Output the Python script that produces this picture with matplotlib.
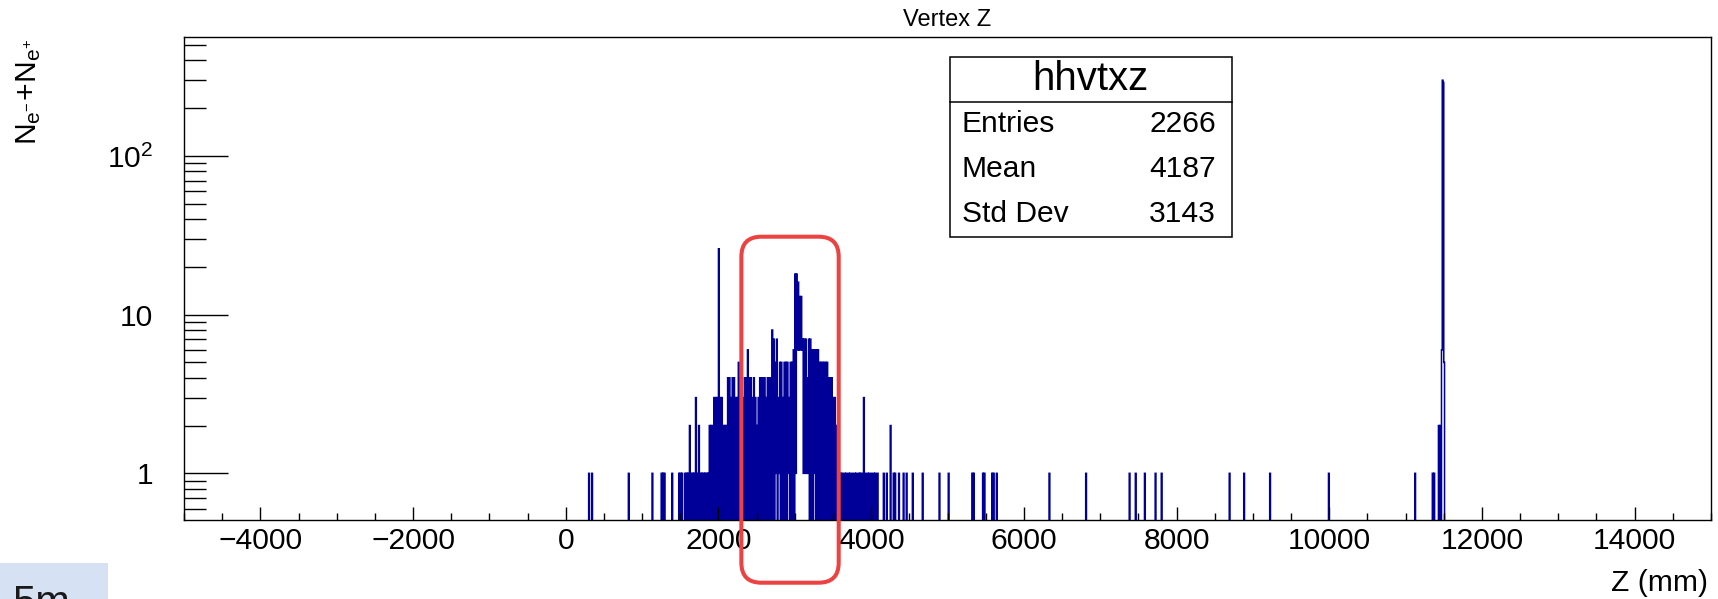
import numpy as np
import matplotlib
matplotlib.use("Agg")
import matplotlib.pyplot as plt
from matplotlib.patches import FancyBboxPatch, Rectangle
from matplotlib.lines import Line2D
from matplotlib.transforms import IdentityTransform
from matplotlib.ticker import FixedLocator, FixedFormatter, NullFormatter, MultipleLocator

plt.rcParams['font.family'] = ['Liberation Sans', 'DejaVu Sans']
plt.rcParams['mathtext.fontset'] = 'custom'
plt.rcParams['mathtext.rm'] = 'Liberation Sans'
plt.rcParams['mathtext.it'] = 'Liberation Sans:italic'
plt.rcParams['mathtext.bf'] = 'Liberation Sans:bold'

# ---- histogram definition (mm) ----
z_min, z_max, bin_w = -5000, 15000, 10

# dense core: 20 mm columns from core_start, highest / lowest bin content in each
core_start = 1880
core_peak = [2, 2, 2, 3, 3, 3, 26, 3, 3, 2,
             2, 2, 4, 4, 3, 4, 4, 3, 3, 5,
             4, 4, 3, 4, 4, 6, 4, 4, 3, 4,
             3, 2, 3, 4, 4, 4, 4, 3, 4, 4,
             4, 8, 7, 5, 7, 3, 5, 5, 3, 5,
             5, 5, 3, 5, 5, 6, 18, 18, 16, 13,
             13, 7, 7, 7, 4, 7, 7, 6, 6, 6,
             6, 6, 5, 5, 5, 5, 5, 5, 4, 4,
             4, 3, 3, 2, 2, 1]
core_floor = [0, 0, 0, 0, 0, 0, 0, 0, 0, 0,
              0, 0, 0, 0, 0, 0, 0, 0, 0, 0,
              0, 0, 0, 0, 0, 0, 0, 0, 0, 0,
              0, 0, 0, 0, 0, 0, 0, 0, 0, 0,
              0, 0, 0, 1, 0, 1, 0, 0, 0, 0,
              0, 1, 0, 0, 0, 0, 1, 6, 6, 6,
              6, 1, 1, 1, 1, 0, 0, 0, 1, 0,
              0, 0, 0, 0, 0, 0, 0, 0, 0, 0,
              0, 0, 0, 0, 0, 0]

# isolated bins outside the core: lower bin edge (mm) and content
single_z = [300, 340, 820, 1130, 1250, 1270, 1290, 1390,
            1480, 1500, 1520, 1560, 1580, 1600, 1620, 1640, 1660, 1680,
            1700, 1720, 1740, 1760, 1780, 1800, 1820, 1840, 1860,
            3600, 3620, 3650, 3670, 3700, 3720, 3750, 3780, 3800, 3830,
            3850, 3870, 3900, 3920, 3950, 3970, 4000, 4030, 4050, 4080,
            4160, 4200, 4250, 4290, 4310, 4360, 4420, 4460, 4540, 4670,
            4890, 5010, 5320, 5340, 5460, 5480, 5580, 5600, 5640, 6330,
            6810, 7380, 7460, 7580, 7720, 7800, 8690, 8880, 9220, 9990,
            11120, 11350, 11370, 11430, 11450, 11470, 11480, 11490, 11500]
single_n = [1, 1, 1, 1, 1, 1, 1, 1,
            1, 1, 1, 1, 1, 1, 2, 1, 1, 1,
            3, 1, 2, 1, 1, 1, 1, 1, 1,
            1, 1, 1, 1, 1, 1, 1, 1, 1, 1,
            1, 1, 3, 1, 1, 1, 1, 1, 1, 1,
            1, 1, 2, 1, 1, 1, 1, 1, 1, 1,
            1, 1, 1, 1, 1, 1, 1, 1, 1, 1,
            1, 1, 1, 1, 1, 1, 1, 1, 1, 1,
            1, 1, 1, 2, 2, 6, 300, 290, 5]

hist_name = "hhvtxz"
stat_labels = ["Entries", "Mean", "Std Dev"]
stat_values = ["2266", "4187", "3143"]

x_major = [-4000, -2000, 0, 2000, 4000, 6000, 8000, 10000, 12000, 14000]
y_major = [1, 10, 100]
y_major_labels = ["1", "10", r"$\mathregular{10^{2}}$"]
y_minor = [0.6, 0.7, 0.8, 0.9, 2, 3, 4, 5, 6, 7, 8, 9,
           20, 30, 40, 50, 60, 70, 80, 90, 200, 300, 400, 500]

# highlighted z window
box_z = (2300, 3575)

# ---- build bin contents ----
edges = np.arange(z_min, z_max + bin_w, bin_w)
counts = np.zeros(len(edges) - 1)


def bin_index(z):
    return int(round((z - z_min) / bin_w))


for i, (p, f) in enumerate(zip(core_peak, core_floor)):
    k = bin_index(core_start + 20 * i)
    counts[k] = p
    counts[k + 1] = f
for z, n in zip(single_z, single_n):
    counts[bin_index(z)] = n

# ---- figure ----
W, H, DPI = 1718, 599, 100
fig = plt.figure(figsize=(W / DPI, H / DPI), dpi=DPI)
fig.patch.set_facecolor("white")

ax_l, ax_r, ax_t, ax_b = 184, 1711, 36.7, 520
ax = fig.add_axes([ax_l / W, 1 - ax_b / H, (ax_r - ax_l) / W, (ax_b - ax_t) / H])

plot_vals = np.where(counts > 0, counts, 1e-3)
ax.stairs(plot_vals, edges, baseline=None, color="#000099", lw=1.1)

ax.set_yscale("log")
ax.set_xlim(z_min, z_max)
ax.set_ylim(0.508, 564)

ax.xaxis.set_major_locator(FixedLocator(x_major))
ax.xaxis.set_minor_locator(MultipleLocator(500))
ax.yaxis.set_major_locator(FixedLocator(y_major))
ax.yaxis.set_major_formatter(FixedFormatter(y_major_labels))
ax.yaxis.set_minor_locator(FixedLocator(y_minor))
ax.yaxis.set_minor_formatter(NullFormatter())

ax.tick_params(axis="x", which="both", direction="in", top=False, bottom=True,
               labelsize=21.6, pad=5, width=1.0, color="black")
ax.tick_params(axis="x", which="major", length=9.4)
ax.tick_params(axis="x", which="minor", length=5.0)
ax.tick_params(axis="y", which="both", direction="in", left=True, right=False,
               labelsize=21.6, pad=22, width=1.0, color="black")
ax.tick_params(axis="y", which="major", length=31.7)
ax.tick_params(axis="y", which="minor", length=15.8)
for s in ax.spines.values():
    s.set_linewidth(1.0)
    s.set_color("black")

# titles
fig.text(947 / W, 1 - 20 / H, "Vertex Z", ha="center", va="center", fontsize=17)
fig.text(1708 / W, 8 / H, "Z (mm)", ha="right", va="baseline", fontsize=21.6)
fig.text(29 / W, 1 - 38 / H, r"$\mathregular{N_{e^{-}}\!+\!N_{e^{+}}}$",
         ha="center", va="top", rotation=90, fontsize=21.6)

# statistics box
bx0, bx1, by0, by1, bdiv = 950, 1231.7, 56.7, 236.7, 101.7
fig.add_artist(Rectangle((bx0 / W, 1 - by1 / H), (bx1 - bx0) / W, (by1 - by0) / H,
                         transform=fig.transFigure, facecolor="white",
                         edgecolor="black", lw=1.1, zorder=5))
fig.add_artist(Line2D([bx0 / W, bx1 / W], [1 - bdiv / H, 1 - bdiv / H],
                      transform=fig.transFigure, color="black", lw=1.1, zorder=6))
fig.text((bx0 + bx1) / 2 / W, 1 - (by0 + bdiv) / 2 / H, hist_name,
         ha="center", va="center", fontsize=29, zorder=7)
row_h = (by1 - bdiv) / len(stat_labels)
for i, (lab, val) in enumerate(zip(stat_labels, stat_values)):
    yc = 1 - (bdiv + row_h * (i + 0.5)) / H
    fig.text(962 / W, yc, lab, ha="left", va="center", fontsize=21.6, zorder=7)
    fig.text(1216 / W, yc, val, ha="right", va="center", fontsize=21.6, zorder=7)

# highlight window around the core
px0 = ax.transData.transform((box_z[0], 1))[0]
px1 = ax.transData.transform((box_z[1], 1))[0]
py_top = H - 236.7
py_bot = H - 582.7
fig.add_artist(FancyBboxPatch((px0, py_bot), px1 - px0, py_top - py_bot,
                              boxstyle="round,pad=0,rounding_size=20",
                              transform=IdentityTransform(), fill=False,
                              edgecolor="#ec4242", lw=2.9, zorder=8))

# corner tag
fig.add_artist(Rectangle((0, 0), 108, 35.7, transform=IdentityTransform(),
                         facecolor="#d6e2f3", edgecolor="none", zorder=3))
fig.text(12 / W, -16 / H, "5m", ha="left", va="baseline", fontsize=30,
         color="#1a1a1a", zorder=4)

fig.savefig("out.png", dpi=DPI)
